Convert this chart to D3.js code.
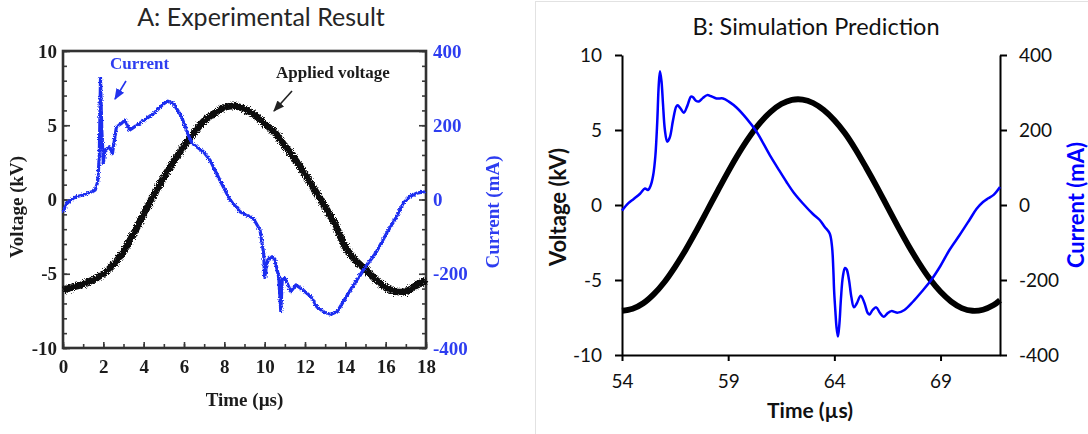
<!DOCTYPE html>
<html><head><meta charset="utf-8">
<script src="https://cdn.jsdelivr.net/npm/d3@7"></script>
<style>
body{margin:0;background:#fff;}
svg{display:block;}
</style></head><body>
<svg id="c" width="1088" height="434"></svg>
<script>
// ---------- Panel A: experimental ----------
const expVoltTime = [0,0.5,1,1.5,2,2.5,3,3.5,4,4.5,5,5.5,6,6.5,7,7.5,8,8.5,9,9.5,10,10.5,11,11.5,12,12.5,13,13.5,14,14.5,15,15.5,16,16.5,17,17.5,18];
const expVoltage = [-6.1,-5.9,-5.7,-5.4,-5.0,-4.4,-3.5,-2.3,-1.0,0.3,1.5,2.6,3.6,4.5,5.3,5.8,6.2,6.3,6.1,5.7,5.1,4.5,3.6,2.7,1.7,0.6,-0.5,-1.7,-3.2,-4.1,-4.7,-5.4,-5.9,-6.2,-6.2,-5.8,-5.4];
const expCurrTime = [0,0.2,0.5,0.7,1.0,1.2,1.5,1.6,1.72,1.8,1.86,1.92,2.0,2.08,2.3,2.45,2.65,2.9,3.07,3.3,3.8,4.5,5.0,5.2,5.47,5.88,6.2,6.4,6.96,7.29,7.78,8.28,8.78,9.44,9.77,9.95,10.0,10.15,10.32,10.5,10.7,10.8,10.87,11.0,11.3,11.55,11.9,12.3,12.6,13.0,13.3,13.6,14.2,14.95,15.5,16.05,16.5,16.87,17.2,17.54,17.95];
const expCurrent = [-33,-10,3,8,12,17,22,26,48,115,326,190,100,133,142,124,196,205,214,187,205,232,258,265,259,223,175,151,129,106,52,-1,-33,-51,-82,-145,-210,-163,-154,-160,-210,-302,-215,-212,-248,-230,-244,-262,-290,-305,-309,-302,-248,-185,-145,-91,-50,-10,8,17,21];
const expTimeTicks = [0,2,4,6,8,10,12,14,16,18];

// ---------- Panel B: simulation ----------
const simVoltTime = [54,54.5,55,55.5,56,56.5,57,57.5,58,58.5,59,59.5,60,60.5,61,61.5,62,62.5,63,63.5,64,64.5,65,65.5,66,66.5,67,67.5,68,68.5,69,69.5,70,70.5,71,71.5,71.8];
const simVoltage = [-7.05,-6.92,-6.55,-5.94,-5.13,-4.12,-2.98,-1.72,-0.40,0.93,2.23,3.45,4.54,5.47,6.21,6.73,7.01,7.03,6.80,6.33,5.65,4.78,3.70,2.48,1.21,-0.13,-1.46,-2.73,-3.90,-4.94,-5.79,-6.44,-6.87,-7.05,-6.98,-6.67,-6.35];
const simCurrTime = [54.00,54.30,54.55,54.85,55.08,55.22,55.35,55.47,55.57,55.66,55.73,55.79,55.86,55.93,56.02,56.13,56.25,56.40,56.55,56.62,56.75,56.91,57.08,57.25,57.35,57.48,57.62,57.80,58.01,58.20,58.45,58.76,59.05,59.39,59.86,60.33,60.96,61.35,61.74,62.10,62.52,62.99,63.31,63.54,63.78,63.89,63.95,63.99,64.05,64.10,64.17,64.24,64.31,64.40,64.50,64.58,64.69,64.80,64.92,65.06,65.24,65.42,65.57,65.66,65.80,65.97,66.15,66.32,66.50,66.68,66.99,67.30,67.70,68.10,68.56,69.00,69.42,69.90,70.36,70.70,71.00,71.25,71.50,71.80];
const simCurrent = [-15,5,16,30,44,40,52,80,130,222,320,357,330,270,200,169,180,225,262,266,258,246,265,289,287,278,276,285,293,290,284,284,275,260,231,196,133,97,62,32,4,-24,-40,-58,-76,-111,-170,-230,-285,-325,-351,-315,-250,-191,-168,-172,-200,-245,-273,-262,-242,-262,-288,-292,-280,-273,-288,-298,-289,-283,-287,-280,-258,-232,-200,-162,-120,-80,-40,-10,8,18,27,48];
const simTimeTicks = [54,59,64,69];

const voltTicks = [-10,-5,0,5,10];
const currTicks = [-400,-200,0,200,400];

const plain = d => String(d);   // hyphen-minus, as in the reference

const svg = d3.select("#c");
const defs = svg.append("defs");

// noisy look for the scanned experimental traces
const f = defs.append("filter").attr("id","noisy").attr("filterUnits","userSpaceOnUse")
  .attr("x",0).attr("y",0).attr("width",540).attr("height",434);
f.append("feTurbulence").attr("type","fractalNoise").attr("baseFrequency","0.9").attr("numOctaves",2).attr("seed",4).attr("result","n");
f.append("feDisplacementMap").attr("in","SourceGraphic").attr("in2","n").attr("scale",6).attr("xChannelSelector","R").attr("yChannelSelector","G").attr("result","d");
f.append("feGaussianBlur").attr("in","d").attr("stdDeviation",0.35);
const fc = defs.append("filter").attr("id","noisyC").attr("filterUnits","userSpaceOnUse")
  .attr("x",0).attr("y",0).attr("width",540).attr("height",434);
fc.append("feTurbulence").attr("type","fractalNoise").attr("baseFrequency","0.8").attr("numOctaves",2).attr("seed",9).attr("result","n");
fc.append("feDisplacementMap").attr("in","SourceGraphic").attr("in2","n").attr("scale",3.5).attr("xChannelSelector","R").attr("yChannelSelector","G").attr("result","d");
fc.append("feGaussianBlur").attr("in","d").attr("stdDeviation",0.3);
const fb = defs.append("filter").attr("id","soft").attr("x","-5%").attr("y","-5%").attr("width","110%").attr("height","110%");
fb.append("feGaussianBlur").attr("stdDeviation",0.45);

defs.append("marker").attr("id","arrK").attr("viewBox","0 0 10 10").attr("refX",9).attr("refY",5)
  .attr("markerWidth",7).attr("markerHeight",7).attr("orient","auto-start-reverse")
  .append("path").attr("d","M0,1 L10,5 L0,9 Z").attr("fill","#222");
defs.append("marker").attr("id","arrB").attr("viewBox","0 0 10 10").attr("refX",9).attr("refY",5)
  .attr("markerWidth",7).attr("markerHeight",7).attr("orient","auto-start-reverse")
  .append("path").attr("d","M0,1 L10,5 L0,9 Z").attr("fill","#2233ee");

// ================= Panel A =================
const A = {l:63, r:426, t:51, b:348};
const xA = d3.scaleLinear().domain([0,18]).range([A.l,A.r]);
const yAV = d3.scaleLinear().domain([-10,10]).range([A.b,A.t]);
const yAI = d3.scaleLinear().domain([-400,400]).range([A.b,A.t]);
const blueA = "#1f2ff0";
const serif = "'Liberation Serif','DejaVu Serif',serif";

svg.append("text").attr("x",261).attr("y",26).attr("text-anchor","middle")
  .attr("font-family","Lato, 'Open Sans', sans-serif").attr("font-size",25).attr("fill","#262626")
  .text("A: Experimental Result");

const gA = svg.append("g").attr("filter","url(#soft)");

function styleAxis(g, col){
  g.select(".domain").remove();
  g.selectAll(".tick line").attr("stroke","#3a3a3a").attr("stroke-width",1.6);
  g.selectAll("text").attr("font-family",serif).attr("font-weight","bold").attr("font-size",19).attr("fill",col);
}
// minor ticks
styleAxis(gA.append("g").attr("transform",`translate(${A.l},0)`)
  .call(d3.axisLeft(yAV).tickValues(d3.range(-10,10.1,1)).tickSize(-4).tickFormat("")),"#000");
styleAxis(gA.append("g").attr("transform",`translate(0,${A.b})`)
  .call(d3.axisBottom(xA).tickValues(d3.range(0,18.1,1)).tickSize(-4).tickFormat("")),"#000");
styleAxis(gA.append("g").attr("transform",`translate(${A.r},0)`)
  .call(d3.axisRight(yAI).tickValues(d3.range(-400,400.1,40)).tickSize(-4).tickFormat("")),"#000");
// labelled ticks
styleAxis(gA.append("g").attr("transform",`translate(${A.l},0)`)
  .call(d3.axisLeft(yAV).tickValues(voltTicks).tickFormat(plain).tickSize(-7).tickPadding(6)),"#1a1a1a");
styleAxis(gA.append("g").attr("transform",`translate(0,${A.b})`)
  .call(d3.axisBottom(xA).tickValues(expTimeTicks).tickFormat(plain).tickSize(-6).tickPadding(12)),"#1a1a1a");
styleAxis(gA.append("g").attr("transform",`translate(${A.r},0)`)
  .call(d3.axisRight(yAI).tickValues(currTicks).tickFormat(plain).tickSize(-7).tickPadding(7)),"#2e3ef0");

gA.append("rect").attr("x",A.l).attr("y",A.t).attr("width",A.r-A.l).attr("height",A.b-A.t)
  .attr("fill","none").attr("stroke","#333").attr("stroke-width",2.6);

// traces
const lineAV = d3.line().x((d,i)=>xA(expVoltTime[i])).y(d=>yAV(d)).curve(d3.curveCatmullRom);
const lineAI = d3.line().x((d,i)=>xA(expCurrTime[i])).y(d=>yAI(d)).curve(d3.curveLinear);
svg.append("path").datum(expVoltage).attr("d",lineAV).attr("fill","none")
  .attr("stroke","#111").attr("stroke-width",7).attr("filter","url(#noisy)");
svg.append("path").datum(expCurrent).attr("d",lineAI).attr("fill","none")
  .attr("stroke",blueA).attr("stroke-width",3.2).attr("stroke-linejoin","round").attr("filter","url(#noisyC)");

// axis titles
gA.append("text").attr("transform",`translate(16,207) rotate(-90)`).attr("text-anchor","middle")
  .attr("dominant-baseline","central").attr("font-family",serif).attr("font-weight","bold")
  .attr("font-size",19).attr("fill","#1a1a1a").text("Voltage (kV)");
gA.append("text").attr("transform",`translate(492,212) rotate(-90)`).attr("text-anchor","middle")
  .attr("dominant-baseline","central").attr("font-family",serif).attr("font-weight","bold")
  .attr("font-size",19).attr("fill","#2e3ef0").text("Current (mA)");
gA.append("text").attr("x",(A.l+A.r)/2).attr("y",406).attr("text-anchor","middle")
  .attr("font-family",serif).attr("font-weight","bold").attr("font-size",19).attr("fill","#1a1a1a").text("Time (µs)");

// annotations
gA.append("text").attr("x",110).attr("y",69).attr("font-family",serif).attr("font-weight","bold")
  .attr("font-size",17).attr("fill","#2e3ef0").text("Current");
gA.append("line").attr("x1",126).attr("y1",81).attr("x2",115).attr("y2",99)
  .attr("stroke","#2233ee").attr("stroke-width",1.6).attr("marker-end","url(#arrB)");
gA.append("text").attr("x",276).attr("y",78).attr("font-family",serif).attr("font-weight","bold")
  .attr("font-size",17).attr("fill","#1a1a1a").text("Applied voltage");
gA.append("line").attr("x1",292).attr("y1",91).attr("x2",274).attr("y2",111)
  .attr("stroke","#222").attr("stroke-width",1.6).attr("marker-end","url(#arrK)");

// ================= Panel B =================
svg.append("rect").attr("x",535.5).attr("y",1.5).attr("width",560).attr("height",450)
  .attr("fill","none").attr("stroke","#e2e2e2").attr("stroke-width",1);

const B = {l:622, r:1000, t:55, b:355};
const xB = d3.scaleLinear().domain([54,71.8]).range([B.l,B.r]);
const yBV = d3.scaleLinear().domain([-10,10]).range([B.b,B.t]);
const yBI = d3.scaleLinear().domain([-400,400]).range([B.b,B.t]);
const sans = "Lato, 'Open Sans', sans-serif";

svg.append("text").attr("x",816).attr("y",35).attr("text-anchor","middle")
  .attr("font-family",sans).attr("font-size",23.5).attr("fill","#111").text("B: Simulation Prediction");

function styleB(g){
  g.select(".domain").attr("stroke","#000").attr("stroke-width",2);
  g.selectAll(".tick line").attr("stroke","#000").attr("stroke-width",2);
  g.selectAll("text").attr("font-family",sans).attr("font-size",19).attr("fill","#111");
}
styleB(svg.append("g").attr("transform",`translate(0,${B.b})`)
  .call(d3.axisBottom(xB).tickValues(simTimeTicks).tickFormat(plain).tickSize(6).tickSizeOuter(0).tickPadding(14)));
styleB(svg.append("g").attr("transform",`translate(${B.l},0)`)
  .call(d3.axisLeft(yBV).tickValues(voltTicks).tickFormat(plain).tickSize(7).tickSizeOuter(0).tickPadding(13)));
styleB(svg.append("g").attr("transform",`translate(${B.r},0)`)
  .call(d3.axisRight(yBI).tickValues(currTicks).tickFormat(plain).tickSize(7).tickSizeOuter(0).tickPadding(12)));

const lineBV = d3.line().x((d,i)=>xB(simVoltTime[i])).y(d=>yBV(d)).curve(d3.curveCatmullRom);
const lineBI = d3.line().x((d,i)=>xB(simCurrTime[i])).y(d=>yBI(d)).curve(d3.curveCatmullRom);
svg.append("path").datum(simVoltage).attr("d",lineBV).attr("fill","none")
  .attr("stroke","#000").attr("stroke-width",5.8);
svg.append("path").datum(simCurrent).attr("d",lineBI).attr("fill","none")
  .attr("stroke","#0000ff").attr("stroke-width",2.5).attr("stroke-linejoin","round");

svg.append("text").attr("transform",`translate(557,207) rotate(-90)`).attr("text-anchor","middle")
  .attr("dominant-baseline","central").attr("font-family",sans).attr("font-weight","bold")
  .attr("font-size",22).attr("fill","#111").text("Voltage (kV)");
svg.append("text").attr("transform",`translate(1075,205) rotate(-90)`).attr("text-anchor","middle")
  .attr("dominant-baseline","central").attr("font-family",sans).attr("font-weight","bold")
  .attr("font-size",22).attr("fill","#0000ff").text("Current (mA)");
svg.append("text").attr("x",810).attr("y",418).attr("text-anchor","middle")
  .attr("font-family",sans).attr("font-weight","bold").attr("font-size",21).attr("fill","#111").text("Time (µs)");
</script>
</body></html>
